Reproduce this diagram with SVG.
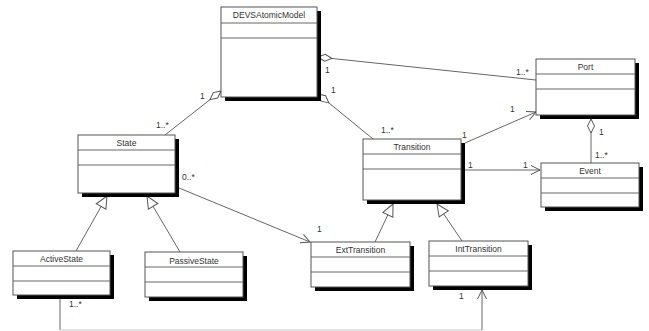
<svg xmlns="http://www.w3.org/2000/svg" width="649" height="331" viewBox="0 0 649 331">
  <style>
    .shadow { fill: #000; }
    .box { fill: #fff; stroke: #555; stroke-width: 1; }
    .div { stroke: #666; stroke-width: 1; }
    .name { font-family: "Liberation Sans", Arial, sans-serif; font-size: 8.5px; fill: #333; text-anchor: middle; }
    .mult { font-family: "Liberation Sans", Arial, sans-serif; font-size: 8.5px; fill: #333; }
    .link { fill: none; stroke: #666; stroke-width: 1; }
    .faint { fill: none; stroke: #c8c8c8; stroke-width: 1; }
  </style>
  <defs>
    <marker id="diamond" markerUnits="userSpaceOnUse" markerWidth="1" markerHeight="1" orient="auto" overflow="visible">
      <path d="M0,0 L7,-3.5 L14,0 L7,3.5 Z" fill="#fff" stroke="#555" stroke-width="1"/>
    </marker>
    <marker id="open" markerUnits="userSpaceOnUse" markerWidth="1" markerHeight="1" orient="auto" overflow="visible">
      <path d="M-9,-4.5 L0,0 L-9,4.5" fill="none" stroke="#555" stroke-width="1"/>
    </marker>
    <marker id="gen" markerUnits="userSpaceOnUse" markerWidth="1" markerHeight="1" orient="auto" overflow="visible">
      <path d="M0,0 L-12,-5.5 L-12,5.5 Z" fill="#fff" stroke="#555" stroke-width="1"/>
    </marker>
  </defs>

  <rect width="649" height="331" fill="#fff"/>

  <!-- associations, aggregations and generalizations -->
  <g id="connectors">
    <path class="link" d="M318,57 L536,80" marker-start="url(#diamond)"/>
    <path class="link" d="M221,91 L165,135" marker-start="url(#diamond)"/>
    <path class="link" d="M318,94 L373,139" marker-start="url(#diamond)"/>
    <path class="link" d="M591,119 L591,163" marker-start="url(#diamond)"/>
    <path class="link" d="M465,143 L536,112" marker-end="url(#open)"/>
    <path class="link" d="M465,170 L540,170" marker-end="url(#open)"/>
    <path class="link" d="M179,188 L310,242" marker-end="url(#open)"/>
    <path class="link" d="M60,299 L60,330"/>
    <path class="faint" d="M60,330 L482,330"/>
    <path class="link" d="M482,330 L482,290" marker-end="url(#open)"/>
    <path class="link" d="M76,251 L107,196" marker-end="url(#gen)"/>
    <path class="link" d="M180,252 L147,196" marker-end="url(#gen)"/>
    <path class="link" d="M375,242 L393,204" marker-end="url(#gen)"/>
    <path class="link" d="M462,241 L437,204" marker-end="url(#gen)"/>

    <text class="mult" x="325" y="73">1</text>
    <text class="mult" x="516" y="75">1..*</text>
    <text class="mult" x="200" y="99">1</text>
    <text class="mult" x="156" y="128">1..*</text>
    <text class="mult" x="331" y="93">1</text>
    <text class="mult" x="381" y="133">1..*</text>
    <text class="mult" x="462" y="138">1</text>
    <text class="mult" x="510" y="112">1</text>
    <text class="mult" x="468" y="168">1</text>
    <text class="mult" x="523" y="168">1</text>
    <text class="mult" x="599" y="135">1</text>
    <text class="mult" x="595" y="158">1..*</text>
    <text class="mult" x="182" y="180">0..*</text>
    <text class="mult" x="317" y="232">1</text>
    <text class="mult" x="69" y="307">1..*</text>
    <text class="mult" x="459" y="299">1</text>
  </g>

  <g id="DEVSAtomicModel">
    <rect class="shadow" x="225" y="11" width="96" height="90"/>
    <rect class="box" x="221" y="7" width="96" height="90"/>
    <line class="div" x1="221" y1="23" x2="317" y2="23"/>
    <line class="div" x1="221" y1="38" x2="317" y2="38"/>
    <text class="name" x="269" y="18">DEVSAtomicModel</text>
  </g>

  <g id="Port">
    <rect class="shadow" x="540" y="63" width="99" height="56"/>
    <rect class="box" x="536" y="59" width="99" height="56"/>
    <line class="div" x1="536" y1="74" x2="635" y2="74"/>
    <line class="div" x1="536" y1="89" x2="635" y2="89"/>
    <text class="name" x="585.5" y="70">Port</text>
  </g>

  <g id="Event">
    <rect class="shadow" x="545" y="167" width="98" height="44"/>
    <rect class="box" x="541" y="163" width="98" height="44"/>
    <line class="div" x1="541" y1="178" x2="639" y2="178"/>
    <line class="div" x1="541" y1="193" x2="639" y2="193"/>
    <text class="name" x="590" y="174">Event</text>
  </g>

  <g id="State">
    <rect class="shadow" x="82" y="139" width="97" height="58"/>
    <rect class="box" x="78" y="135" width="97" height="58"/>
    <line class="div" x1="78" y1="150" x2="175" y2="150"/>
    <line class="div" x1="78" y1="165" x2="175" y2="165"/>
    <text class="name" x="126.5" y="146">State</text>
  </g>

  <g id="ActiveState">
    <rect class="shadow" x="17" y="255" width="97" height="44"/>
    <rect class="box" x="13" y="251" width="97" height="44"/>
    <line class="div" x1="13" y1="266" x2="110" y2="266"/>
    <line class="div" x1="13" y1="281" x2="110" y2="281"/>
    <text class="name" x="61.5" y="262">ActiveState</text>
  </g>

  <g id="PassiveState">
    <rect class="shadow" x="149" y="256" width="98" height="45"/>
    <rect class="box" x="145" y="252" width="98" height="45"/>
    <line class="div" x1="145" y1="267" x2="243" y2="267"/>
    <line class="div" x1="145" y1="282" x2="243" y2="282"/>
    <text class="name" x="194" y="264">PassiveState</text>
  </g>

  <g id="Transition">
    <rect class="shadow" x="367" y="143" width="98" height="61"/>
    <rect class="box" x="363" y="139" width="98" height="61"/>
    <line class="div" x1="363" y1="154" x2="461" y2="154"/>
    <line class="div" x1="363" y1="169" x2="461" y2="169"/>
    <text class="name" x="412" y="150">Transition</text>
  </g>

  <g id="ExtTransition">
    <rect class="shadow" x="315" y="246" width="99" height="45"/>
    <rect class="box" x="311" y="242" width="99" height="45"/>
    <line class="div" x1="311" y1="257" x2="410" y2="257"/>
    <line class="div" x1="311" y1="272" x2="410" y2="272"/>
    <text class="name" x="360.5" y="253">ExtTransition</text>
  </g>

  <g id="IntTransition">
    <rect class="shadow" x="433" y="245" width="99" height="45"/>
    <rect class="box" x="429" y="241" width="99" height="45"/>
    <line class="div" x1="429" y1="256" x2="528" y2="256"/>
    <line class="div" x1="429" y1="271" x2="528" y2="271"/>
    <text class="name" x="478.5" y="252">IntTransition</text>
  </g>
</svg>
